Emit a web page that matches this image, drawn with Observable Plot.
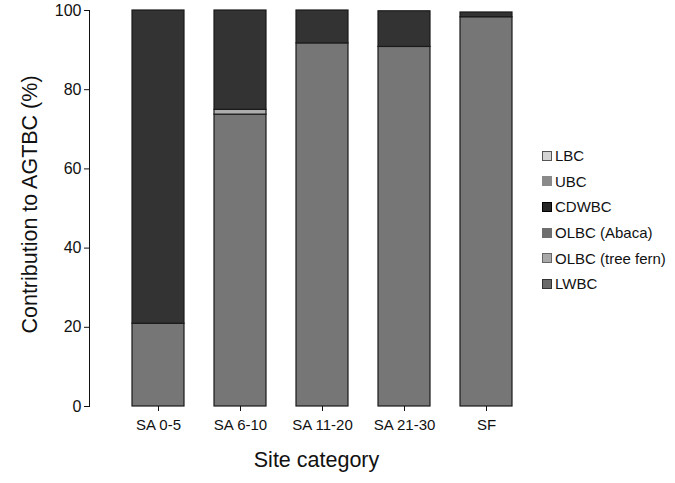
<!DOCTYPE html>
<html><head><meta charset="utf-8">
<script src="https://cdn.jsdelivr.net/npm/d3@7"></script>
<script src="https://cdn.jsdelivr.net/npm/@observablehq/plot@0.6"></script>
<style>
html,body{margin:0;padding:0;background:#fff;}
#wrap{position:relative;width:675px;height:483px;font-family:"Liberation Sans",Arial,sans-serif;}
#legend{position:absolute;left:542px;top:143px;font-size:15px;color:#111;}
#legend .row{display:flex;align-items:center;height:25.6px;}
#legend .sw{width:8px;height:8px;margin-right:3px;box-sizing:content-box;}
</style></head>
<body><div id="wrap"><div id="chart"></div><div id="legend"></div></div>
<script>
const sites = ["SA 0-5", "SA 6-10", "SA 11-20", "SA 21-30", "SF"];
const components = ["LBC", "UBC", "CDWBC", "OLBC (Abaca)", "OLBC (tree fern)", "LWBC"];
const stackOrder = ["LWBC", "OLBC (tree fern)", "OLBC (Abaca)", "UBC", "LBC", "CDWBC"];
const fills = {"LBC": "#cfcfcf", "UBC": "#8a8a8a", "CDWBC": "#333333", "OLBC (Abaca)": "#6f6f6f", "OLBC (tree fern)": "#adadad", "LWBC": "#767676"};
const swatchFills = {"LBC": "#d4d4d4", "UBC": "#8a8a8a", "CDWBC": "#262626", "OLBC (Abaca)": "#6e6e6e", "OLBC (tree fern)": "#a8a8a8", "LWBC": "#6a6a6a"};
const swatchStrokes = {"LBC": "#555", "UBC": "#8a8a8a", "CDWBC": "#000", "OLBC (Abaca)": "#6e6e6e", "OLBC (tree fern)": "#666", "LWBC": "#333"};
// values per site, in order of `sites`
const LWBC = [20.9, 73.7, 91.7, 90.8, 98.3];
const OLBC_treefern = [0, 1.2, 0, 0, 0];
const OLBC_abaca = [0, 0, 0, 0, 0];
const UBC = [0, 0, 0, 0, 0];
const LBC = [0, 0, 0, 0, 0];
const CDWBC = [79.1, 25.1, 8.3, 9.0, 1.2];
const yTicks = [0, 20, 40, 60, 80, 100];

const series = {"LWBC": LWBC, "OLBC (tree fern)": OLBC_treefern, "OLBC (Abaca)": OLBC_abaca, "UBC": UBC, "LBC": LBC, "CDWBC": CDWBC};
const data = [];
for (const c of stackOrder) sites.forEach((s, i) => { if (series[c][i] > 0) data.push({site: s, comp: c, value: series[c][i]}); });

const font = '"Liberation Sans", Arial, sans-serif';
const chart = Plot.plot({
  width: 675, height: 483,
  marginLeft: 89, marginRight: 120, marginTop: 10, marginBottom: 77,
  style: {fontFamily: font, color: "#111", background: "#fff"},
  x: {domain: sites, paddingInner: 0.37, paddingOuter: 0.494, label: null},
  y: {domain: [0, 100], label: null},
  color: {domain: components, range: components.map(c => fills[c])},
  marks: [
    Plot.barY(data, {x: "site", y: "value", fill: "comp", order: stackOrder, stroke: "#1a1a1a", strokeWidth: 1.2}),
    Plot.frame({anchor: "left", stroke: "#111"}),
    Plot.axisY({ticks: yTicks, tickSize: 5, tickPadding: 3, fontSize: 16, label: null, stroke: "#111"}),
    Plot.axisX({tickSize: 5, tickPadding: 8, fontSize: 15, label: null}),
    Plot.text(["Site category"], {frameAnchor: "bottom", textAnchor: "middle", lineAnchor: "middle", dy: 54, dx: -6, fontSize: 21.5, fill: "#111"}),
    Plot.text(["Contribution to AGTBC (%)"], {frameAnchor: "left", textAnchor: "middle", lineAnchor: "middle", rotate: -90, dx: -59, dy: -4, fontSize: 21.5, fill: "#111"})
  ]
});
document.getElementById("chart").appendChild(chart);

const legend = document.getElementById("legend");
for (const c of components) {
  const row = document.createElement("div"); row.className = "row";
  const sw = document.createElement("span"); sw.className = "sw";
  sw.style.background = swatchFills[c]; sw.style.border = "1px solid " + swatchStrokes[c];
  const t = document.createElement("span"); t.textContent = c;
  row.appendChild(sw); row.appendChild(t); legend.appendChild(row);
}
</script></body></html>
